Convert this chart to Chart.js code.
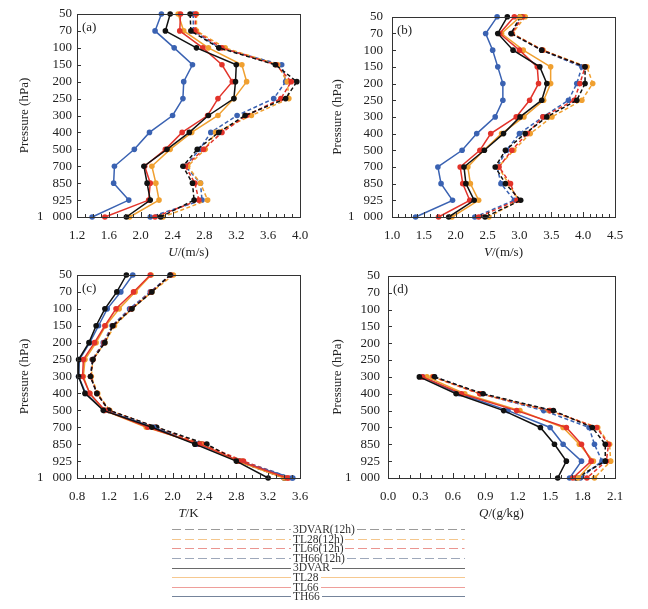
<!DOCTYPE html>
<html>
<head>
<meta charset="utf-8">
<script src="https://cdn.jsdelivr.net/npm/chart.js@4.4.0/dist/chart.umd.min.js"></script>
<style>
  body { margin: 0; background: #fff; }
  #wrap { position: relative; width: 648px; height: 609px; overflow: hidden; }
  canvas { position: absolute; }
  #legend { position: absolute; left: 172px; top: 525px; width: 293px;
            font-family: "Liberation Serif", serif; font-size: 11.5px; color: #333; z-index: 2; }
  .row { display: flex; align-items: center; height: 9.6px; }
  .row .l { width: 119px; flex: none; }
  .row .r { flex: 1; }
  .row span { padding: 0 2px; line-height: 9.6px; white-space: nowrap; }
  .row svg { display: block; }
</style>
</head>
<body>
<div id="wrap">
  <canvas id="ca" width="320" height="270" style="left:0;top:0"></canvas>
  <canvas id="cb" width="328" height="270" style="left:320px;top:0"></canvas>
  <canvas id="cc" width="320" height="270" style="left:0;top:260px"></canvas>
  <canvas id="cd" width="328" height="270" style="left:320px;top:260px"></canvas>
  <div id="legend"></div>
</div>
<script>
// Pressure levels (top to bottom)
const levels = ['50', '70', '100', '150', '200', '250', '300', '400', '500', '700', '850', '925', '1\u2002\u2009000'];

// (a) U
const u3DVAR = [2.37, 2.31, 2.70, 3.20, 3.19, 3.17, 2.85, 2.61, 2.33, 2.04, 2.08, 2.12, 1.82];
const uTL28 = [2.47, 2.54, 2.85, 3.27, 3.33, 3.17, 2.97, 2.64, 2.37, 2.14, 2.19, 2.23, 1.86];
const uTL66 = [2.50, 2.49, 2.78, 3.02, 3.15, 2.97, 2.84, 2.52, 2.31, 2.05, 2.12, 2.10, 1.55];
const uTH66 = [2.26, 2.18, 2.42, 2.65, 2.54, 2.53, 2.40, 2.11, 1.92, 1.67, 1.66, 1.85, 1.39];
const u3DVAR12 = [2.62, 2.63, 2.98, 3.69, 3.96, 3.82, 3.31, 2.98, 2.71, 2.53, 2.65, 2.67, 2.25];
const uTL28_12 = [2.70, 2.70, 3.06, 3.72, 3.84, 3.86, 3.39, 2.94, 2.81, 2.59, 2.75, 2.84, 2.28];
const uTL66_12 = [2.69, 2.68, 3.02, 3.70, 3.89, 3.76, 3.33, 3.02, 2.79, 2.56, 2.68, 2.73, 2.18];
const uTH66_12 = [2.66, 2.66, 2.99, 3.77, 3.82, 3.67, 3.21, 2.88, 2.74, 2.56, 2.75, 2.77, 2.12];

// (b) V
const v3DVAR = [2.81, 2.66, 2.90, 3.32, 3.43, 3.35, 3.01, 2.75, 2.45, 2.13, 2.16, 2.29, 1.89];
const vTL28 = [3.01, 2.72, 3.06, 3.49, 3.49, 3.38, 3.07, 2.72, 2.44, 2.19, 2.23, 2.36, 1.94];
const vTL66 = [2.92, 2.69, 3.00, 3.28, 3.30, 3.16, 2.95, 2.55, 2.38, 2.07, 2.11, 2.22, 1.73];
const vTH66 = [2.65, 2.47, 2.58, 2.66, 2.74, 2.74, 2.62, 2.33, 2.10, 1.72, 1.77, 1.95, 1.37];
const v3DVAR12 = [3.01, 2.87, 3.35, 4.03, 4.03, 3.90, 3.43, 3.09, 2.78, 2.62, 2.78, 3.02, 2.46];
const vTL28_12 = [3.09, 2.89, 3.37, 4.06, 4.15, 3.98, 3.51, 3.17, 2.91, 2.67, 2.83, 2.99, 2.52];
const vTL66_12 = [3.05, 2.88, 3.36, 4.03, 3.95, 3.86, 3.37, 3.12, 2.88, 2.68, 2.86, 2.96, 2.36];
const vTH66_12 = [3.03, 2.87, 3.35, 3.98, 3.90, 3.77, 3.37, 3.00, 2.80, 2.65, 2.71, 2.92, 2.30];

// (c) T
const t3DVAR = [1.42, 1.30, 1.15, 1.04, 0.95, 0.82, 0.82, 0.90, 1.13, 1.74, 2.28, 2.80, 3.20];
const tTL28 = [1.73, 1.53, 1.33, 1.16, 1.04, 0.90, 0.88, 0.96, 1.14, 1.67, 2.35, 2.81, 3.40];
const tTL66 = [1.72, 1.51, 1.29, 1.15, 1.02, 0.88, 0.87, 0.96, 1.15, 1.69, 2.34, 2.84, 3.44];
const tTH66 = [1.50, 1.35, 1.18, 1.07, 0.96, 0.83, 0.82, 0.91, 1.14, 1.76, 2.30, 2.82, 3.50];
const t3DVAR12 = [1.97, 1.74, 1.49, 1.25, 1.15, 1.00, 0.97, 1.05, 1.20, 1.80, 2.43, 2.82, 3.40];
const tTL28_12 = [2.01, 1.74, 1.49, 1.27, 1.15, 1.00, 0.98, 1.06, 1.21, 1.78, 2.36, 2.87, 3.43];
const tTL66_12 = [1.98, 1.73, 1.48, 1.25, 1.14, 1.00, 0.97, 1.05, 1.20, 1.79, 2.38, 2.89, 3.46];
const tTH66_12 = [1.97, 1.72, 1.46, 1.24, 1.13, 0.99, 0.97, 1.05, 1.20, 1.78, 2.33, 2.86, 3.51];

// (d) Q (no data above 300 hPa)
const q3DVAR = [null, null, null, null, null, null, 0.29, 0.63, 1.07, 1.41, 1.54, 1.65, 1.57];
const qTL28 = [null, null, null, null, null, null, 0.36, 0.71, 1.22, 1.62, 1.77, 1.90, 1.76];
const qTL66 = [null, null, null, null, null, null, 0.32, 0.68, 1.19, 1.65, 1.79, 1.88, 1.71];
const qTH66 = [null, null, null, null, null, null, 0.32, 0.66, 1.11, 1.50, 1.62, 1.79, 1.68];
const q3DVAR12 = [null, null, null, null, null, null, 0.43, 0.88, 1.53, 1.89, 2.01, 2.01, 1.74];
const qTL28_12 = [null, null, null, null, null, null, 0.41, 0.85, 1.49, 1.94, 2.05, 2.06, 1.91];
const qTL66_12 = [null, null, null, null, null, null, 0.42, 0.85, 1.50, 1.93, 2.04, 2.02, 1.84];
const qTH66_12 = [null, null, null, null, null, null, 0.43, 0.86, 1.44, 1.86, 1.91, 1.98, 1.78];

const colors = { '3DVAR': '#111111', 'TL28': '#f0a030', 'TL66': '#e2332a', 'TH66': '#3a62b2' };
const FONT = '"Liberation Serif", "Times New Roman", serif';

// Frame, inward ticks, titles and panel label
const decorPlugin = {
  id: 'decor',
  afterDraw(chart, args, o) {
    const { ctx, chartArea: a, scales: { x, y } } = chart;
    ctx.save();
    ctx.strokeStyle = '#333';
    ctx.lineWidth = 1;
    ctx.strokeRect(Math.round(a.left) + 0.5, Math.round(a.top) + 0.5,
                   Math.round(a.width), Math.round(a.height));
    // x ticks (major + minor)
    const n = Math.round((o.max - o.min) / o.minor);
    const per = Math.round(o.step / o.minor);
    ctx.beginPath();
    for (let i = 0; i <= n; i++) {
      const px = Math.round(x.getPixelForValue(o.min + i * o.minor)) + 0.5;
      const len = i % per === 0 ? 5 : 3;
      ctx.moveTo(px, a.bottom);
      ctx.lineTo(px, a.bottom - len);
    }
    // y ticks at each level
    for (let i = 0; i < levels.length; i++) {
      const py = Math.round(y.getPixelForValue(i)) + 0.5;
      ctx.moveTo(a.left, py);
      ctx.lineTo(a.left + 4, py);
    }
    ctx.stroke();

    ctx.fillStyle = '#222';
    // panel label
    ctx.font = '13px ' + FONT;
    ctx.textAlign = 'left';
    ctx.textBaseline = 'middle';
    ctx.fillText(o.label, a.left + 5, a.top + 14);

    // x title: italic symbol + units
    ctx.font = 'italic 13px ' + FONT;
    const w1 = ctx.measureText(o.sym).width;
    ctx.font = '13px ' + FONT;
    const w2 = ctx.measureText(o.unit).width;
    let tx = (a.left + a.right) / 2 - (w1 + w2) / 2;
    const ty = a.bottom + 36;
    ctx.font = 'italic 13px ' + FONT;
    ctx.fillText(o.sym, tx, ty);
    ctx.font = '13px ' + FONT;
    ctx.fillText(o.unit, tx + w1, ty);

    // y title
    ctx.translate(o.titleX, (a.top + a.bottom) / 2);
    ctx.rotate(-Math.PI / 2);
    ctx.textAlign = 'center';
    ctx.fillText('Pressure (hPa)', 0, 0);
    ctx.restore();
  }
};

function series(name, data, dashed) {
  const c = colors[name];
  return {
    label: dashed ? name + '(12h)' : name,
    data: data,
    borderColor: c,
    backgroundColor: c,
    borderWidth: 1.5,
    borderDash: dashed ? [4, 2.5] : [],
    pointRadius: 2.8,
    pointBorderWidth: 0,
    pointHoverRadius: 2.8,
    tension: 0,
    spanGaps: false,
    clip: false
  };
}

function makePanel(id, cfg, sets) {
  new Chart(document.getElementById(id), {
    type: 'line',
    data: {
      labels: levels,
      datasets: [
        series('3DVAR', sets[0], false),
        series('TL66', sets[2], false),
        series('TL28', sets[1], false),
        series('TH66', sets[3], false),
        series('3DVAR', sets[4], true),
        series('TL66', sets[6], true),
        series('TL28', sets[5], true),
        series('TH66', sets[7], true)
      ]
    },
    options: {
      indexAxis: 'y',
      responsive: false,
      animation: false,
      layout: { padding: { top: cfg.top, right: cfg.right, left: 0, bottom: 0 } },
      plugins: {
        legend: { display: false },
        tooltip: { enabled: false },
        decor: cfg
      },
      scales: {
        x: {
          type: 'linear',
          position: 'bottom',
          min: cfg.min,
          max: cfg.max,
          grid: { display: false, drawTicks: false },
          border: { display: false },
          ticks: {
            stepSize: cfg.step,
            padding: 11,
            color: '#222',
            font: { family: FONT, size: 13 },
            maxRotation: 0,
            callback: v => Number(v).toFixed(1)
          },
          afterFit: s => { s.height = cfg.xh; }
        },
        y: {
          type: 'category',
          position: 'left',
          grid: { display: false, drawTicks: false },
          border: { display: false },
          ticks: {
            padding: cfg.ypad,
            color: '#222',
            font: { family: FONT, size: 13 },
            autoSkip: false
          },
          afterFit: s => { s.width = cfg.yw; }
        }
      }
    },
    plugins: [decorPlugin]
  });
}

makePanel('ca', { label: '(a)', sym: 'U', unit: '/(m/s)', min: 1.2, max: 4.0, step: 0.4, minor: 0.1,
  yw: 77, right: 20, top: 14, xh: 53, ypad: 5, titleX: 25 },
  [u3DVAR, uTL28, uTL66, uTH66, u3DVAR12, uTL28_12, uTL66_12, uTH66_12]);
makePanel('cb', { label: '(b)', sym: 'V', unit: '/(m/s)', min: 1.0, max: 4.5, step: 0.5, minor: 0.1,
  yw: 72, right: 33, top: 14, xh: 53, ypad: 9, titleX: 18 },
  [v3DVAR, vTL28, vTL66, vTH66, v3DVAR12, vTL28_12, vTL66_12, vTH66_12]);
makePanel('cc', { label: '(c)', sym: 'T', unit: '/K', min: 0.8, max: 3.6, step: 0.4, minor: 0.1,
  yw: 77, right: 20, top: 15, xh: 52, ypad: 5, titleX: 25 },
  [t3DVAR, tTL28, tTL66, tTH66, t3DVAR12, tTL28_12, tTL66_12, tTH66_12]);
makePanel('cd', { label: '(d)', sym: 'Q', unit: '/(g/kg)', min: 0.0, max: 2.1, step: 0.3, minor: 0.1,
  yw: 68, right: 33, top: 15, xh: 52, ypad: 8, titleX: 18 },
  [q3DVAR, qTL28, qTL66, qTH66, q3DVAR12, qTL28_12, qTL66_12, qTH66_12]);

// Legend (faded colours as in the figure)
const legendItems = [
  { text: '3DVAR(12h)', color: '#9a9a9a', dashed: true },
  { text: 'TL28(12h)', color: '#f4c68c', dashed: true },
  { text: 'TL66(12h)', color: '#ea9590', dashed: true },
  { text: 'TH66(12h)', color: '#9ea8ba', dashed: true },
  { text: '3DVAR', color: '#6a6a6a', dashed: false },
  { text: 'TL28', color: '#f6c890', dashed: false },
  { text: 'TL66', color: '#ee9e9a', dashed: false },
  { text: 'TH66', color: '#75849b', dashed: false }
];
const legendEl = document.getElementById('legend');
legendItems.forEach(item => {
  const dash = item.dashed ? 'stroke-dasharray="9 4"' : '';
  const line = `<svg width="100%" height="3"><line x1="0" y1="1.5" x2="100%" y2="1.5" stroke="${item.color}" stroke-width="1" ${dash}/></svg>`;
  const row = document.createElement('div');
  row.className = 'row';
  row.innerHTML = `<div class="l">${line}</div><span>${item.text}</span><div class="r">${line}</div>`;
  legendEl.appendChild(row);
});
</script>
</body>
</html>
